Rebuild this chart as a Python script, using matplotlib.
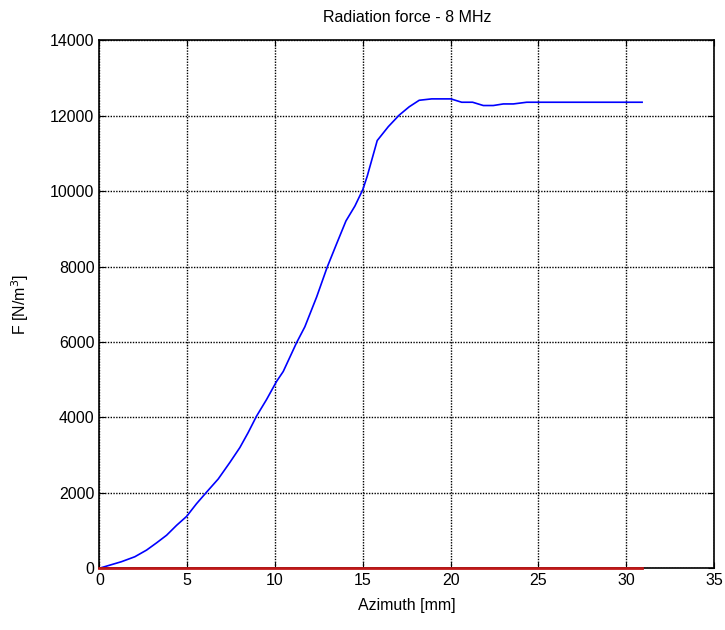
import matplotlib.pyplot as plt

plt.rcParams['font.family'] = ['Liberation Sans', 'DejaVu Sans']

# azimuth [mm] and radiation force [N/m^3]
azimuth = [0, 1.26, 2.02, 2.69, 3.26, 3.83, 4.4, 4.97, 5.53, 6.1, 6.77, 7.43,
           8.0, 8.47, 8.95, 9.52, 10.09, 10.47, 11.23, 11.7, 12.37, 12.97,
           13.5, 14.04, 14.55, 15.0, 15.25, 15.82, 16.45, 17.07, 17.64,
           18.21, 18.92, 20.01, 20.63, 21.25, 21.86, 22.43, 23.0, 23.57,
           24.33, 30.9]
force = [0, 174, 305, 482, 674, 876, 1139, 1376, 1710, 2016, 2368, 2805,
         3200, 3595, 4034, 4474, 4955, 5218, 5982, 6403, 7192, 7982,
         8595, 9210, 9605, 10042, 10395, 11342, 11710, 12016, 12237,
         12410, 12447, 12447, 12358, 12358, 12271, 12271, 12313, 12313,
         12358, 12358]
zero_x = [0, 30.9]
zero_y = [0, 0]

fig = plt.figure(figsize=(7.25, 6.3), dpi=100)
ax = fig.add_axes([0.137, 0.098, 0.848, 0.838])

ax.plot(azimuth, force, color='#0000ff', lw=1.2)
ax.plot(zero_x, zero_y, color='#c01818', lw=2, zorder=4, clip_on=False)

ax.set_xlim(0, 35)
ax.set_ylim(0, 14000)
ax.set_xticks(range(0, 36, 5))
ax.set_yticks(range(0, 14001, 2000))
ax.grid(True, color='black', linestyle=(0, (1, 1)), linewidth=1)
ax.tick_params(direction='in', top=True, right=True, labelsize=11.5, length=4)
for s in ax.spines.values():
    s.set_linewidth(1.2)

ax.set_xlabel('Azimuth [mm]', fontsize=11.5, labelpad=7)
ax.set_ylabel('F [N/m$^3$]', fontsize=11.5, labelpad=14)
ax.set_title('Radiation force - 8 MHz', fontsize=11.5, pad=13)

fig.savefig('out.png')
